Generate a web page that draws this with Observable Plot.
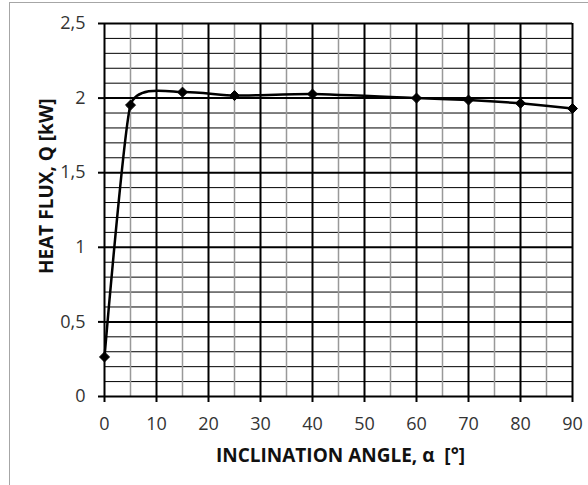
<!DOCTYPE html>
<html><head><meta charset="utf-8">
<script src="https://cdn.jsdelivr.net/npm/d3@7"></script>
<script src="https://cdn.jsdelivr.net/npm/@observablehq/plot@0.6"></script>
<style>
html,body{margin:0;padding:0;background:#fff;}
#wrap{position:relative;width:588px;height:485px;overflow:hidden;}
#frame{position:absolute;left:9px;top:2px;width:700px;height:600px;border:1.5px solid #a6a6a6;box-sizing:border-box;}
#chart{position:absolute;left:0;top:0;}
</style></head><body>
<div id="wrap"><div id="frame"></div><div id="chart"></div></div>
<script>
const angle = [0, 5, 15, 25, 40, 60, 70, 80, 90];
const heatFlux = [0.265, 1.953, 2.04, 2.017, 2.027, 2.0, 1.987, 1.965, 1.93];
const xTicks = [0, 10, 20, 30, 40, 50, 60, 70, 80, 90];
const xMinor = [5, 15, 25, 35, 45, 55, 65, 75, 85];
const yTicks = [0, 0.5, 1, 1.5, 2, 2.5];
const yMinor = [0.1, 0.2, 0.3, 0.4, 0.6, 0.7, 0.8, 0.9, 1.1, 1.2, 1.3, 1.4, 1.6, 1.7, 1.8, 1.9, 2.1, 2.2, 2.3, 2.4];
const xLabel = "INCLINATION ANGLE, α\u00a0\u00a0[°]";
const yLabel = "HEAT FLUX, Q [kW]";

const data = angle.map((a, i) => ({a, q: heatFlux[i]}));
const fmt = d => String(d).replace(".", ",");
const font = "'Open Sans', sans-serif";

const chart = Plot.plot({
  width: 588,
  height: 485,
  marginLeft: 104,
  marginRight: 16,
  marginTop: 23,
  marginBottom: 89,
  style: {fontFamily: font, fontSize: "18px", color: "#333", background: "transparent"},
  x: {domain: [0, 90]},
  y: {domain: [0, 2.5]},
  marks: [
    Plot.ruleY(yMinor, {stroke: "#000", strokeWidth: 1}),
    Plot.ruleX(xMinor, {stroke: "#999", strokeWidth: 1.5}),
    Plot.ruleY(yTicks, {stroke: "#000", strokeWidth: 2}),
    Plot.ruleX(xTicks, {stroke: "#000", strokeWidth: 2}),
    Plot.axisX({ticks: xTicks, tickSize: 6, tickPadding: 15, tickFormat: fmt, fontSize: 18,
      stroke: "#000", strokeWidth: 2, strokeOpacity: 1, label: null}),
    Plot.axisY({ticks: yTicks, tickSize: 6, tickPadding: 13, tickFormat: fmt, fontSize: 18,
      stroke: "#000", strokeWidth: 2, strokeOpacity: 1, label: null}),
    Plot.text([xLabel], {frameAnchor: "bottom", dx: 2, dy: 59, lineAnchor: "middle",
      fontWeight: "bold", fontSize: 19, fill: "#111", ariaLabel: "xlabel"}),
    Plot.text([yLabel], {frameAnchor: "left", dx: -58, dy: 64, rotate: -90, lineAnchor: "middle",
      fontWeight: "bold", fontSize: 19, fill: "#111", ariaLabel: "ylabel"}),
    Plot.line(data, {x: "a", y: "q", curve: "cardinal", tension: 0.5, stroke: "#000", strokeWidth: 2.5}),
    Plot.dot(data, {x: "a", y: "q", symbol: "diamond2", r: 4.5, fill: "#000", stroke: "#000", strokeWidth: 1})
  ]
});
document.getElementById("chart").appendChild(chart);
// fit axis-title font so the x title spans the same width as in the source
const xt = chart.querySelector("g[aria-label='xlabel'] text");
const yt = chart.querySelector("g[aria-label='ylabel'] text");
if (xt && xt.getComputedTextLength) {
  const w = xt.getComputedTextLength();
  if (w > 0) {
    const fs = Math.max(14, Math.min(24, 19 * 246 / w));
    xt.parentNode.setAttribute("font-size", fs);
    yt.parentNode.setAttribute("font-size", fs);
    xt.setAttribute("font-size", fs);
    yt.setAttribute("font-size", fs);
  }
}
</script>
</body></html>
